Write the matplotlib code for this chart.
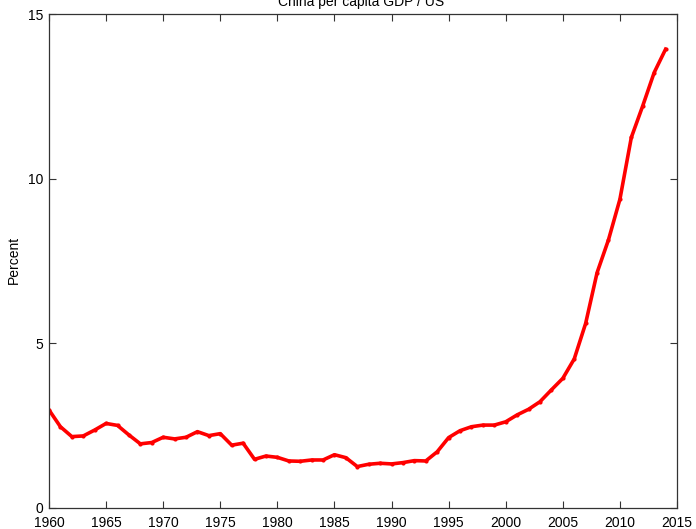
import matplotlib
matplotlib.use("Agg")
import matplotlib.pyplot as plt

# China per capita GDP relative to US (percent)
years = list(range(1960, 2015))
ratio = [
    2.97, 2.46, 2.16, 2.18, 2.36, 2.56, 2.50, 2.21, 1.94, 1.98,
    2.14, 2.09, 2.14, 2.31, 2.19, 2.25, 1.90, 1.96, 1.47, 1.57,
    1.53, 1.42, 1.41, 1.45, 1.45, 1.61, 1.52, 1.25, 1.32, 1.35,
    1.33, 1.37, 1.43, 1.42, 1.70, 2.13, 2.34, 2.46, 2.51, 2.51,
    2.61, 2.82, 2.99, 3.22, 3.58, 3.93, 4.52, 5.60, 7.14, 8.14,
    9.37, 11.25, 12.21, 13.22, 13.93,
]
xticks = [1960, 1965, 1970, 1975, 1980, 1985, 1990, 1995, 2000, 2005, 2010, 2015]
yticks = [0, 5, 10, 15]

plt.rcParams["font.family"] = ["Liberation Sans", "DejaVu Sans"]

fig = plt.figure(figsize=(6.96, 5.29), dpi=100)
ax = fig.add_axes([49 / 696, 21.3 / 529, 628 / 696, 493.7 / 529])

ax.plot(years, ratio, color="#ff0000", linewidth=2.6, marker="o",
        markersize=3, markeredgewidth=0)

ax.set_xlim(1960, 2015)
ax.set_ylim(0, 15)
ax.set_xticks(xticks)
ax.set_yticks(yticks)
ax.tick_params(direction="in", top=True, right=True, length=5,
               labelsize=10, color="#333333")
ax.tick_params(axis="x", pad=6)
ax.tick_params(axis="y", pad=4)
for s in ax.spines.values():
    s.set_color("#333333")
    s.set_linewidth(0.9)

# y label and title placed in figure pixels like the original
fig.text(14 / 696, 1 - 260 / 529, "Percent", rotation=90,
         ha="center", va="center", fontsize=10)
fig.text(361 / 696, 1 - 6 / 529, "China per capita GDP / US",
         ha="center", va="baseline", fontsize=10)

fig.savefig("out.png", dpi=100)
